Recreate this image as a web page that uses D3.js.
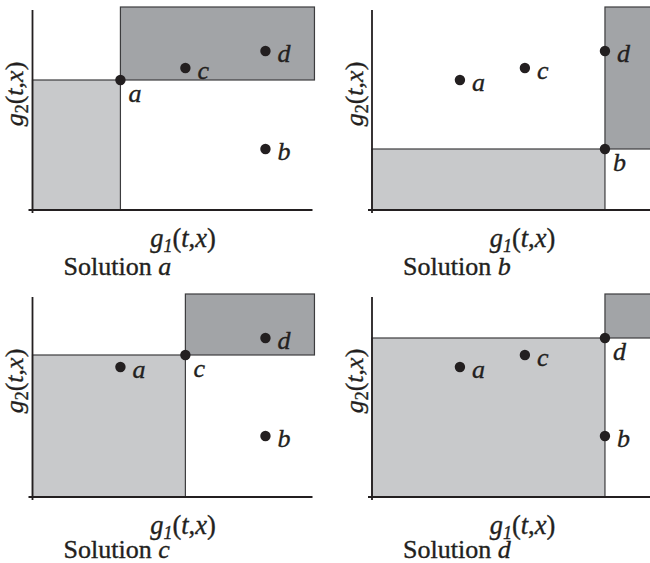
<!DOCTYPE html>
<html>
<head>
<meta charset="utf-8">
<script src="https://cdn.jsdelivr.net/npm/d3@7"></script>
<style>
  html, body { margin: 0; padding: 0; background: #fff; }
  svg { display: block; }
</style>
</head>
<body>
<svg id="chart" width="650" height="563"></svg>
<script>
// Objective-space points (g1, g2) shared by all four panels
const pointNames = ["a", "b", "c", "d"];
const g1Values = [31.4, 83.2, 54.6, 83.2];
const g2Values = [65, 30.5, 71, 79.5];

// Which point is the chosen solution in each panel
const panelSolutions = ["a", "b", "c", "d"];

// Upper extent of the dominated region (slightly past the axes)
const regionMax = [100.7, 101.5];

const axisDomain = [0, 100];

const W = 280, H = 200;
const panelOrigins = [[32.5, 10], [372, 10], [32.5, 297], [372, 297]];
const captionOffsets = [65, 65, 61, 61];

const serif = "'Liberation Serif', 'Times New Roman', Times, 'DejaVu Serif', serif";

const colors = {
  light: "#c8c9cb",
  dark: "#a2a4a7",
  edge: "#3c3c3e",
  ink: "#231f20"
};

const svg = d3.select("#chart");

const x = d3.scaleLinear().domain(axisDomain).range([0, W]);
const y = d3.scaleLinear().domain(axisDomain).range([H, 0]);

const points = pointNames.map((n, i) => ({ name: n, g1: g1Values[i], g2: g2Values[i] }));

panelSolutions.forEach((sol, pi) => {
  const [ox, oy] = panelOrigins[pi];
  const g = svg.append("g")
    .attr("transform", `translate(${ox},${oy})`)
    .attr("font-family", serif)
    .attr("fill", colors.ink);
  const s = points.find(p => p.name === sol);

  // region dominated by the solution (below-left)
  g.append("rect")
    .attr("x", x(0))
    .attr("y", y(s.g2))
    .attr("width", x(s.g1) - x(0))
    .attr("height", y(0) - y(s.g2))
    .attr("fill", colors.light)
    .attr("stroke", colors.edge)
    .attr("stroke-width", 1.2);

  // region dominating the solution (above-right)
  g.append("rect")
    .attr("x", x(s.g1))
    .attr("y", y(regionMax[1]))
    .attr("width", x(regionMax[0]) - x(s.g1))
    .attr("height", y(s.g2) - y(regionMax[1]))
    .attr("fill", colors.dark)
    .attr("stroke", colors.edge)
    .attr("stroke-width", 1.2);

  // axes
  g.append("line")
    .attr("x1", x(0) - 4).attr("x2", x(axisDomain[1]))
    .attr("y1", y(0)).attr("y2", y(0))
    .attr("stroke", colors.ink).attr("stroke-width", 1.8);
  g.append("line")
    .attr("x1", x(0)).attr("x2", x(0))
    .attr("y1", y(axisDomain[1])).attr("y2", y(0) + 3)
    .attr("stroke", colors.ink).attr("stroke-width", 1.8);

  // points
  g.selectAll("circle.pt")
    .data(points)
    .join("circle")
    .attr("class", "pt")
    .attr("cx", d => x(d.g1))
    .attr("cy", d => y(d.g2))
    .attr("r", 5.2)
    .attr("fill", colors.ink);

  // all text slightly heavier, like the printed figure
  const texts = g.append("g")
    .attr("stroke", colors.ink)
    .attr("stroke-width", 0.35);

  // point labels; the chosen solution's label sits below-right
  texts.selectAll("text.pt")
    .data(points)
    .join("text")
    .attr("class", "pt")
    .attr("x", d => x(d.g1) + (d.name === sol ? 8 : 12))
    .attr("y", d => y(d.g2) + (d.name === sol ? 22 : 11))
    .attr("font-size", 26)
    .attr("font-style", "italic")
    .text(d => d.name);

  // x-axis title g1(t,x)
  const xt = texts.append("text")
    .attr("x", 150.5)
    .attr("y", H + 37)
    .attr("text-anchor", "middle")
    .attr("font-size", 26.5);
  xt.append("tspan").attr("font-style", "italic").text("g");
  xt.append("tspan").attr("font-style", "italic").attr("font-size", 18).attr("dy", 5).text("1");
  xt.append("tspan").attr("dy", -5).text("(");
  xt.append("tspan").attr("font-style", "italic").text("t");
  xt.append("tspan").text(",");
  xt.append("tspan").attr("font-style", "italic").text("x");
  xt.append("tspan").text(")");

  // y-axis title g2(t,x)
  const yt = texts.append("text")
    .attr("transform", `translate(-9.5,${84}) rotate(-90)`)
    .attr("text-anchor", "middle")
    .attr("font-size", 26);
  yt.append("tspan").attr("font-style", "italic").text("g");
  yt.append("tspan").attr("font-size", 18).attr("dy", 5).text("2");
  yt.append("tspan").attr("dy", -5).text("(");
  yt.append("tspan").attr("font-style", "italic").text("t");
  yt.append("tspan").text(",");
  yt.append("tspan").attr("font-style", "italic").text("x");
  yt.append("tspan").text(")");

  // panel caption
  const cap = texts.append("text")
    .attr("x", 31)
    .attr("y", H + captionOffsets[pi])
    .attr("font-size", 26);
  cap.append("tspan").text("Solution ");
  cap.append("tspan").attr("font-style", "italic").text(sol);
});
</script>
</body>
</html>
